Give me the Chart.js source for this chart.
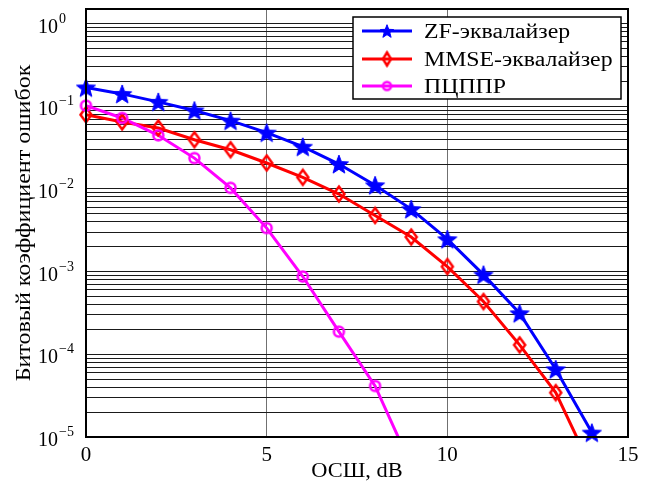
<!DOCTYPE html>
<html>
<head>
<meta charset="utf-8">
<script src="https://cdn.jsdelivr.net/npm/chart.js@4.4.1/dist/chart.umd.min.js"></script>
<style>
  html, body { margin: 0; padding: 0; background: #fff; }
  #wrap { width: 646px; height: 486px; }
</style>
</head>
<body>
<div id="wrap"><canvas id="berChart" width="646" height="486"></canvas></div>
<script>
/* data */
var snr      = [0, 1, 2, 3, 4, 5, 6, 7, 8, 9, 10, 11, 12, 13, 14];
var berZF    = [0.169, 0.141, 0.113, 0.089, 0.067, 0.048, 0.0324, 0.0200, 0.0111, 0.0057, 0.00247, 0.00092, 0.000314, 0.000066, 0.0000113];
var berMMSE  = [0.079, 0.0646, 0.0546, 0.0394, 0.0298, 0.0206, 0.0138, 0.00867, 0.00478, 0.00262, 0.00115, 0.000435, 0.00013, 0.0000344, 0.0000041];
var berPC    = [0.1016, 0.0721, 0.0445, 0.0236, 0.0103, 0.00336, 0.000873, 0.000188, 0.0000414, 0.0000045];

var seriesNames = ['ZF-эквалайзер', 'MMSE-эквалайзер', 'ПЦППР'];
var xTicks   = [0, 5, 10, 15];
var yExps    = [0, -1, -2, -3, -4, -5];
var yMin = 1e-5, yMax = 1.5;

var FONT = '"Liberation Serif", "DejaVu Serif", serif';

function toXY(xs, ys) {
    return ys.map(function (v, i) { return { x: xs[i], y: v }; });
}

// text stretched a bit wider (the source font is wider than Liberation Serif)
function wideText(ctx, txt, x, y, align, sx) {
    ctx.save();
    ctx.translate(x, y);
    ctx.scale(sx, 1);
    ctx.textAlign = align;
    ctx.fillText(txt, 0, 0);
    ctx.restore();
}

// marker images
function starImg(r, color) {
    var c = document.createElement('canvas');
    var s = Math.ceil(r * 2 + 4);
    c.width = s; c.height = s;
    var g = c.getContext('2d');
    g.translate(s / 2, s / 2 + r * 0.1);
    g.beginPath();
    for (var i = 0; i < 10; i++) {
        var rr = i % 2 === 0 ? r : r * 0.42;
        var a = -Math.PI / 2 + i * Math.PI / 5;
        g.lineTo(rr * Math.cos(a), rr * Math.sin(a));
    }
    g.closePath();
    g.fillStyle = color; g.fill();
    g.lineWidth = 1; g.strokeStyle = color; g.stroke();
    return c;
}
function diamondImg(w, h, color, lw) {
    var c = document.createElement('canvas');
    c.width = Math.ceil(w + lw + 2); c.height = Math.ceil(h + lw + 2);
    var g = c.getContext('2d');
    var cx = c.width / 2, cy = c.height / 2;
    g.beginPath();
    g.moveTo(cx, cy - h / 2); g.lineTo(cx + w / 2, cy);
    g.lineTo(cx, cy + h / 2); g.lineTo(cx - w / 2, cy);
    g.closePath();
    g.lineWidth = lw; g.strokeStyle = color; g.stroke();
    return c;
}
function circleImg(r, color, lw) {
    var c = document.createElement('canvas');
    var s = Math.ceil(r * 2 + lw + 2);
    c.width = s; c.height = s;
    var g = c.getContext('2d');
    g.beginPath(); g.arc(s / 2, s / 2, r, 0, Math.PI * 2);
    g.lineWidth = lw; g.strokeStyle = color; g.stroke();
    return c;
}

var colors  = ['#0000ff', '#ff0000', '#ff00ff'];
var markers = [starImg(10, colors[0]), diamondImg(11, 15, colors[1], 2.5), circleImg(5, colors[2], 2.5)];
var legMarkers = [starImg(7, colors[0]), diamondImg(8, 13, colors[1], 2.5), circleImg(4, colors[2], 2.5)];
var seriesData = [toXY(snr, berZF), toXY(snr, berMMSE), toXY(snr, berPC)];

var datasets = [];
// markers (not clipped), drawn above lines
[2, 1, 0].forEach(function (i, k) {
    datasets.push({
        label: seriesNames[i] + ' marker',
        data: seriesData[i],
        showLine: false,
        pointStyle: markers[i],
        pointRadius: 6,
        clip: false,
        order: k
    });
});
// lines, clipped to plot box
[2, 1, 0].forEach(function (i, k) {
    datasets.push({
        label: seriesNames[i],
        data: seriesData[i],
        borderColor: colors[i],
        borderWidth: 3,
        pointRadius: 0,
        tension: 0,
        clip: 0,
        order: 3 + k
    });
});

/* box, labels, legend */
var decoPlugin = {
    id: 'deco',
    afterDraw: function (chart) {
        var ctx = chart.ctx, a = chart.chartArea;
        var xs = chart.scales.x, ys = chart.scales.y;
        ctx.save();

        // frame
        ctx.strokeStyle = '#000';
        ctx.lineWidth = 2;
        ctx.strokeRect(a.left, a.top, a.right - a.left, a.bottom - a.top);

        // x tick labels
        ctx.fillStyle = '#000';
        ctx.font = '20px ' + FONT;
        ctx.textBaseline = 'alphabetic';
        xTicks.forEach(function (t) {
            wideText(ctx, String(t), xs.getPixelForValue(t), 461, 'center', 1.05);
        });

        // y tick labels 10^n
        yExps.forEach(function (e) {
            var py = ys.getPixelForValue(Math.pow(10, e));
            ctx.font = '20px ' + FONT;
            ctx.textAlign = 'left';
            ctx.fillText('10', 38, py + 9);
            var w = ctx.measureText('10').width;
            ctx.font = '14px ' + FONT;
            ctx.fillText(e === 0 ? '0' : '\u2212' + Math.abs(e), 38 + w + 1, py - 1);
        });

        // axis titles
        ctx.font = '20px ' + FONT;
        wideText(ctx, 'ОСШ, dB', (a.left + a.right) / 2, 477, 'center', 1.12);
        ctx.save();
        ctx.translate(30, (a.top + a.bottom) / 2);
        ctx.rotate(-Math.PI / 2);
        wideText(ctx, 'Битовый коэффициент ошибок', 0, 0, 'center', 1.2);
        ctx.restore();

        // legend
        var lx = 353, ly = 17, lw = 268, lh = 82;
        ctx.fillStyle = '#fff';
        ctx.fillRect(lx, ly, lw, lh);
        ctx.strokeStyle = '#000';
        ctx.lineWidth = 1.5;
        ctx.strokeRect(lx, ly, lw, lh);
        var rows = [31, 59, 86];
        seriesNames.forEach(function (name, i) {
            var ry = rows[i];
            ctx.strokeStyle = colors[i];
            ctx.lineWidth = 3;
            ctx.beginPath();
            ctx.moveTo(362, ry); ctx.lineTo(412, ry);
            ctx.stroke();
            var m = legMarkers[i];
            ctx.drawImage(m, 387 - m.width / 2, ry - m.height / 2);
            ctx.fillStyle = '#000';
            ctx.font = '20px ' + FONT;
            wideText(ctx, name, 424, ry + 7, 'left', 1.19);
        });

        ctx.restore();
    }
};

new Chart(document.getElementById('berChart'), {
    type: 'line',
    data: { datasets: datasets },
    options: {
        responsive: false,
        animation: false,
        devicePixelRatio: 1,
        layout: { padding: { left: 86, right: 18, top: 9, bottom: 49 } },
        plugins: { legend: { display: false }, tooltip: { enabled: false } },
        scales: {
            x: {
                type: 'linear', min: 0, max: 15,
                ticks: { display: false, stepSize: 5 },
                grid: { color: '#707070', lineWidth: 1, drawTicks: false },
                border: { display: false }
            },
            y: {
                type: 'logarithmic', min: yMin, max: yMax,
                afterBuildTicks: function (scale) {
                    var t = [];
                    for (var e = -5; e < 0; e++) {
                        for (var s = 1; s < 10; s++) t.push({ value: s * Math.pow(10, e) });
                    }
                    t.push({ value: 1 });
                    scale.ticks = t;
                },
                ticks: { display: false, autoSkip: false },
                grid: { color: '#1a1a1a', lineWidth: 1, drawTicks: false },
                border: { display: false }
            }
        }
    },
    plugins: [decoPlugin]
});
</script>
</body>
</html>
